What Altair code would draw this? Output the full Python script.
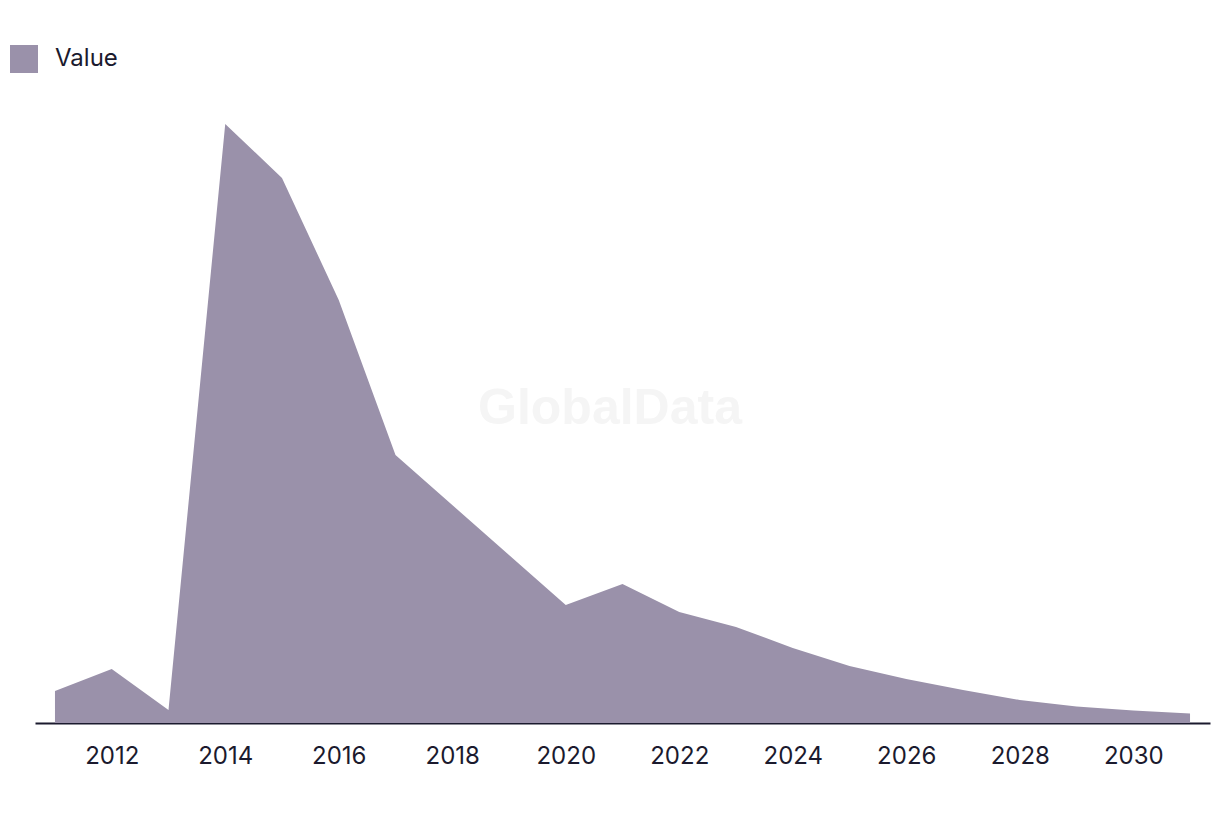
import altair as alt
import pandas as pd

years = list(range(2011, 2032))
values = [32, 54, 13, 599, 545, 423, 268, 218, 168, 118, 139, 111, 96, 75, 57, 44, 33, 23, 16.5, 12.5, 9.5]
series_name = "Value"
tick_years = list(range(2012, 2031, 2))

df = pd.DataFrame({"year": years, "value": values, "series": [series_name] * len(years)})

FONT = "Inter"
TEXT = "#1b1a2e"
FILL = "#9a91aa"

area = alt.Chart(df).mark_area(color=FILL, opacity=1, interpolate="linear").encode(
    x=alt.X("year:Q",
            scale=alt.Scale(domain=[2010.648, 2031.352], nice=False, zero=False),
            axis=alt.Axis(values=tick_years, format="d", title=None, grid=False,
                          ticks=False, domainColor=TEXT, domainWidth=2,
                          labelFont=FONT, labelFontSize=24, labelColor=TEXT,
                          labelPadding=21)),
    y=alt.Y("value:Q", scale=alt.Scale(domain=[0, 623], nice=False), axis=None),
    color=alt.Color("series:N", scale=alt.Scale(range=[FILL]),
                    legend=alt.Legend(title=None, orient="none", legendX=-25, legendY=-55,
                                      symbolType="square", symbolSize=784,
                                      symbolStrokeWidth=0, symbolOpacity=1,
                                      labelFont=FONT, labelFontSize=24, labelColor=TEXT,
                                      labelOffset=17, padding=0)),
)

wm = alt.Chart(pd.DataFrame({"t": ["GlobalData"]})).mark_text(
    font="Liberation Sans", fontSize=50, fontWeight="bold", color="#f5f5f5"
).encode(
    x=alt.value(575), y=alt.value(309), text="t:N"
)

chart = alt.layer(wm, area).properties(
    width=1175, height=623,
    padding={"left": 27, "top": 92, "right": 2, "bottom": 70},
    autosize=alt.AutoSizeParams(type="none"),
).configure(background="white").configure_view(stroke=None, strokeWidth=0)

chart.save("out.html", embed_options={"renderer": "svg", "actions": False})
